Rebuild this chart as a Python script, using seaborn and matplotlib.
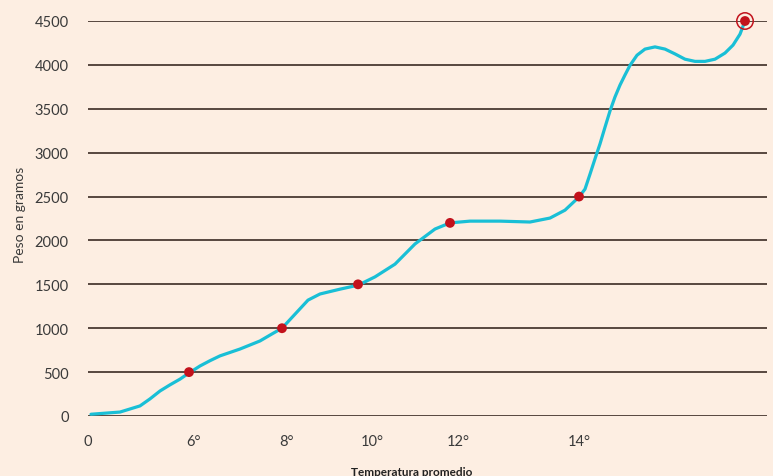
import pandas as pd
import numpy as np
import matplotlib.pyplot as plt
import seaborn as sns

# horizontal position on the chart (arbitrary units, axis is not linear in temperature)
curve_pos = [0.3, 3.2, 5.2, 6.2, 7.2, 8.2, 9.2, 10.1, 11.2, 12.2, 13.2, 15.2, 17.2, 18.4,
             19.4, 20.7, 22.0, 23.2, 25.2, 27.0, 28.7, 30.7, 32.7, 34.7, 36.2, 38.2, 41.2,
             44.2, 46.2, 47.7, 49.1, 49.7, 50.2, 50.7, 51.2, 51.7, 52.2, 52.7, 53.2, 53.7,
             54.2, 54.9, 55.7, 56.7, 57.7, 58.7, 59.7, 60.7, 61.7, 62.7, 63.7, 64.5, 65.2,
             65.7]
curve_peso = [20, 45, 115, 195, 285, 355, 420, 490, 570, 630, 685, 763, 855, 935,
              1000, 1160, 1320, 1390, 1445, 1490, 1585, 1730, 1960, 2130, 2200, 2220, 2220,
              2210, 2255, 2345, 2495, 2585, 2755, 2930, 3100, 3290, 3475, 3635, 3770, 3885,
              3995, 4110, 4180, 4205, 4180, 4125, 4065, 4040, 4040, 4065, 4135, 4225, 4350,
              4500]

punto_pos = [10.1, 19.4, 27.0, 36.2, 49.1, 65.7]
punto_peso = [500, 1000, 1500, 2200, 2500, 4500]

tick_pos = [0, 10.6, 19.9, 28.4, 37.0, 49.1]
tick_labels = ['0', '6°', '8°', '10°', '12°', '14°']

bg = '#fdeee2'
sns.set_style('white')
plt.rcParams['font.family'] = ['Lato', 'DejaVu Sans']

fig = plt.figure(figsize=(7.73, 4.77), dpi=100, facecolor=bg)
ax = fig.add_axes([88 / 773, 60 / 477, 679 / 773, 395 / 477])
ax.set_facecolor(bg)

curve = pd.DataFrame({'pos': curve_pos, 'peso': curve_peso})
puntos = pd.DataFrame({'pos': punto_pos, 'peso': punto_peso})

for v in range(0, 5000, 500):
    ax.axhline(v, color='#4a3a32', lw=1.3, zorder=1)

sns.lineplot(data=curve, x='pos', y='peso', ax=ax, color='#19bfd6', lw=2.3,
             sort=False, zorder=3, clip_on=False, solid_capstyle='round',
             solid_joinstyle='round')
sns.scatterplot(data=puntos, x='pos', y='peso', ax=ax, color='#c2121c', s=50,
                edgecolor='none', zorder=4, clip_on=False)
last = puntos.tail(1)
ax.scatter(last['pos'], last['peso'], s=140, facecolor='none', edgecolor='#c2121c',
           lw=1.1, zorder=4, clip_on=False)

ax.set_xlim(0, 67.9)
ax.set_ylim(0, 4500)
ax.set_xticks(tick_pos)
ax.set_xticklabels(tick_labels)
ax.set_yticks(range(0, 5000, 500))
ax.tick_params(axis='both', length=0, labelsize=10.5, colors='#3a3a3a')
ax.tick_params(axis='y', pad=14)
ax.tick_params(axis='x', pad=13)
ax.set_xlabel('')
ax.set_ylabel('')
for s in ax.spines.values():
    s.set_visible(False)

fig.text(0.026, 1 - 215 / 477, 'Peso en gramos', rotation=90, ha='center', va='center',
         fontsize=10, color='#3a3a3a')
fig.text(0.533, 1 - 467 / 477, 'Temperatura promedio', ha='center', va='top',
         fontsize=8.5, color='#222222', fontweight='bold')

fig.savefig('out.png', dpi=100, facecolor=bg)
